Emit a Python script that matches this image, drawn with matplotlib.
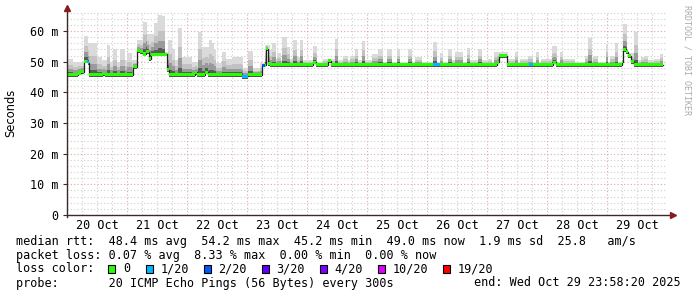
import numpy as np
import matplotlib
matplotlib.use("Agg")
import matplotlib.pyplot as plt
from matplotlib.patches import Rectangle

# time axis: hours since 20 Oct 00:00, data ends just before 30 Oct
end_t = 238.4

# median rtt (ms), value holds from each start hour to the next one
median_t = [0.0, 4.4, 5.6, 6.8, 8.4, 8.8, 14.4, 15.2, 26.4, 28.0, 29.2, 30.4,
            31.6, 32.8, 33.6, 40.0, 40.8, 51.2, 52.0, 55.2, 56.4, 70.0, 72.4,
            78.0, 79.6, 80.4, 81.2, 98.4, 99.6, 104.4, 105.6, 172.0, 172.8,
            176.0, 194.4, 195.6, 222.0, 222.4, 223.6, 224.4, 225.6, 226.8]
median_ms = [45.8, 46.3, 46.7, 50.2, 49.7, 45.7, 46.0, 45.7, 48.4, 53.6, 53.2,
             52.5, 53.3, 51.0, 52.4, 47.3, 45.7, 46.5, 45.7, 46.6, 45.7, 45.2,
             45.7, 48.9, 54.2, 49.3, 49.0, 49.8, 49.0, 50.3, 49.0, 49.8, 51.9,
             49.0, 49.8, 49.0, 50.0, 54.0, 53.3, 52.0, 50.0, 49.0]

# top of the smoke (highest ping) in ms
smoke_t = [0.0, 2.4, 6.8, 8.4, 12.0, 14.0, 16.0, 17.2, 18.4, 20.0, 21.2, 23.2,
           24.0, 26.0, 28.0, 30.4, 32.0, 34.8, 36.4, 38.0, 39.2, 40.4, 42.0,
           43.2, 44.4, 46.0, 50.0, 52.4, 54.0, 56.8, 58.0, 58.8, 59.6, 62.0,
           63.6, 66.0, 70.4, 72.4, 74.4, 77.2, 79.2, 81.2, 82.0, 83.6, 84.0,
           85.6, 86.0, 88.0, 89.2, 90.4, 92.0, 93.2, 94.4, 98.4, 100.0, 102.4,
           104.4, 107.2, 108.4, 110.4, 112.4, 113.2, 115.2, 116.4, 118.0,
           119.2, 122.0, 124.4, 126.4, 128.0, 130.0, 132.0, 133.2, 136.4,
           138.0, 139.2, 142.0, 146.4, 148.0, 149.2, 150.4, 152.4, 154.0,
           155.2, 158.4, 160.0, 161.2, 164.4, 166.0, 168.4, 170.0, 170.8,
           176.4, 179.2, 180.4, 181.2, 184.4, 186.4, 187.6, 188.8, 189.6,
           194.0, 196.0, 197.2, 198.4, 203.2, 207.2, 208.4, 210.0, 210.4,
           212.4, 215.6, 216.4, 217.2, 219.2, 220.4, 222.4, 224.0, 224.4,
           226.8, 228.4, 229.6, 230.8, 232.4, 234.8, 237.2]
smoke_ms = [51.0, 50.0, 58.4, 56.0, 51.5, 50.5, 55.5, 50.0, 54.0, 50.0, 54.0,
            50.5, 52.8, 50.5, 57.0, 63.0, 59.0, 62.6, 65.2, 65.0, 53.0, 57.0,
            54.0, 50.5, 61.0, 51.5, 50.0, 59.7, 54.8, 57.0, 56.0, 53.8, 49.6,
            53.0, 50.9, 51.5, 48.0, 53.6, 48.0, 49.5, 55.5, 53.8, 56.0, 51.0,
            52.8, 50.5, 58.0, 54.8, 51.0, 57.0, 51.5, 57.0, 50.5, 55.0, 50.0,
            51.0, 51.0, 57.4, 50.5, 52.0, 50.5, 52.0, 54.0, 50.5, 56.8, 50.5,
            52.5, 54.0, 50.0, 54.0, 50.0, 54.0, 50.0, 54.0, 50.0, 51.4, 50.0,
            56.5, 50.0, 52.8, 50.0, 54.0, 50.5, 53.0, 50.0, 54.5, 50.5, 54.0,
            50.5, 51.0, 50.0, 53.0, 51.0, 53.2, 50.0, 51.0, 52.0, 50.0, 53.0,
            50.0, 51.0, 55.0, 50.0, 53.0, 51.0, 50.0, 52.0, 57.7, 50.5, 52.0,
            50.0, 55.8, 50.0, 52.0, 56.0, 50.0, 62.3, 54.0, 52.8, 59.7, 50.5,
            51.5, 52.0, 50.5, 51.0, 52.5]

# periods with packet loss (pings lost out of 20)
loss_start = [8.0, 70.0, 78.0, 146.4, 184.8]
loss_end = [8.8, 72.4, 79.2, 149.2, 186.4]
loss_level = [1, 1, 2, 1, 1]

day_labels = ["20 Oct", "21 Oct", "22 Oct", "23 Oct", "24 Oct",
              "25 Oct", "26 Oct", "27 Oct", "28 Oct", "29 Oct"]
y_values = [0, 10, 20, 30, 40, 50, 60]
y_labels = ["0", "10 m", "20 m", "30 m", "40 m", "50 m", "60 m"]

loss_names = ["0", "1/20", "2/20", "3/20", "4/20", "10/20", "19/20"]
loss_colors = ["#26ff00", "#00b8ff", "#0059ff", "#5e00ff",
               "#7e00ff", "#dd00ff", "#ff0000"]
loss_counts = [0, 1, 2, 3, 4, 10, 19]

W, H = 697, 297
MONO = "DejaVu Sans Mono"
FS = 8.5

fig = plt.figure(figsize=(W / 100, H / 100), dpi=100)
fig.patch.set_facecolor("white")
ax = fig.add_axes([67 / W, 1 - 215 / H, 600 / W, 203 / H])
ax.set_xlim(0, 240)
ax.set_ylim(0, 66.2)
for s in ax.spines.values():
    s.set_visible(False)

# grid
for h in range(6, 240, 6):
    col = "#e0a8a8" if h % 24 == 0 else "#cfcfcf"
    ax.axvline(h, color=col, lw=0.8, ls=(0, (1, 2)), zorder=0)
for v in range(2, 67, 2):
    col = "#e0a8a8" if v % 10 == 0 else "#cfcfcf"
    ax.axhline(v, color=col, lw=0.8, ls=(0, (1, 2)), zorder=0)

# common time grid for step drawing
t_all = np.unique(np.concatenate([median_t, smoke_t, loss_start, loss_end, [end_t]]))
mi = np.searchsorted(median_t, t_all, side="right") - 1
si = np.searchsorted(smoke_t, t_all, side="right") - 1
med = np.array(median_ms)[mi]
top = np.array(smoke_ms)[si]
top = np.maximum(top, med + 0.6)

# smoke, lighter further from the median
shades = [(1.0, "#dadada"), (0.6, "#c2c2c2"), (0.35, "#9a9a9a"), (0.15, "#5a5a5a")]
for frac, col in shades:
    ax.fill_between(t_all, med - 0.7, med + (top - med) * frac,
                    step="post", color=col, lw=0, zorder=1)

# median
ax.step(t_all, med, where="post", color="#202020", lw=0.9, zorder=2)
ax.fill_between(t_all, med - 0.5, med + 0.5, step="post",
                color=loss_colors[0], lw=0, zorder=3)
for s, e, lv in zip(loss_start, loss_end, loss_level):
    m = (t_all >= s) & (t_all <= e)
    ax.fill_between(t_all[m], med[m] - 0.5, med[m] + 0.5, step="post",
                    color=loss_colors[loss_counts.index(lv)], lw=0, zorder=4)

# axes with arrows
axis_col = "#3a2a2a"
arrow_col = "#8b1a1a"
ax.plot([0, 0], [-0.01, 1.02], transform=ax.transAxes, clip_on=False,
        color=axis_col, lw=1.0, zorder=5)
ax.plot([0, 1.01], [0, 0], transform=ax.transAxes, clip_on=False,
        color=axis_col, lw=1.0, zorder=5)
ax.plot([0], [1.02], marker="^", ms=4.5, color=arrow_col, mec=arrow_col,
        transform=ax.transAxes, clip_on=False, zorder=6)
ax.plot([1.01], [0], marker=">", ms=4.5, color=arrow_col, mec=arrow_col,
        transform=ax.transAxes, clip_on=False, zorder=6)

ax.set_yticks(y_values)
ax.set_yticklabels(y_labels, fontfamily=MONO, fontsize=FS)
ax.set_xticks([12 + 24 * i for i in range(len(day_labels))])
ax.set_xticklabels(day_labels, fontfamily=MONO, fontsize=FS)
ax.tick_params(axis="y", length=3, width=0.8, color=axis_col, pad=3)
ax.tick_params(axis="x", length=0, pad=3)

fig.text(11 / W, 1 - 113 / H, "Seconds", rotation=90, ha="center",
         va="center", fontsize=8.3, fontfamily="DejaVu Sans")
fig.text(687 / W, 1 - 60 / H, "RRDTOOL / TOBI OETIKER", rotation=270,
         ha="center", va="center", fontsize=6, fontfamily=MONO, color="#aaaaaa")

# legend
def line(y, s, x=16, ha="left"):
    fig.text(x / W, 1 - y / H, s, ha=ha, va="center",
             fontfamily=MONO, fontsize=FS)

line(241, "median rtt:  48.4 ms avg  54.2 ms max  45.2 ms min  "
          "49.0 ms now  1.9 ms sd  25.8   am/s")
line(255, "packet loss: 0.07 % avg  8.33 % max  0.00 % min  0.00 % now")
line(269, "loss color:")
sq_x = [108.3, 145.7, 204, 262, 320, 377.7, 443.3]
for x, name, col in zip(sq_x, loss_names, loss_colors):
    fig.patches.append(Rectangle((x / W, 1 - 273 / H), 7 / W, 8 / H,
                                 transform=fig.transFigure, facecolor=col,
                                 edgecolor="black", lw=0.8))
    line(269, name, x=x + 14.5)
line(283, "probe:       20 ICMP Echo Pings (56 Bytes) every 300s")
line(283, "end: Wed Oct 29 23:58:20 2025", x=681, ha="right")

fig.savefig("out.png", dpi=100)
